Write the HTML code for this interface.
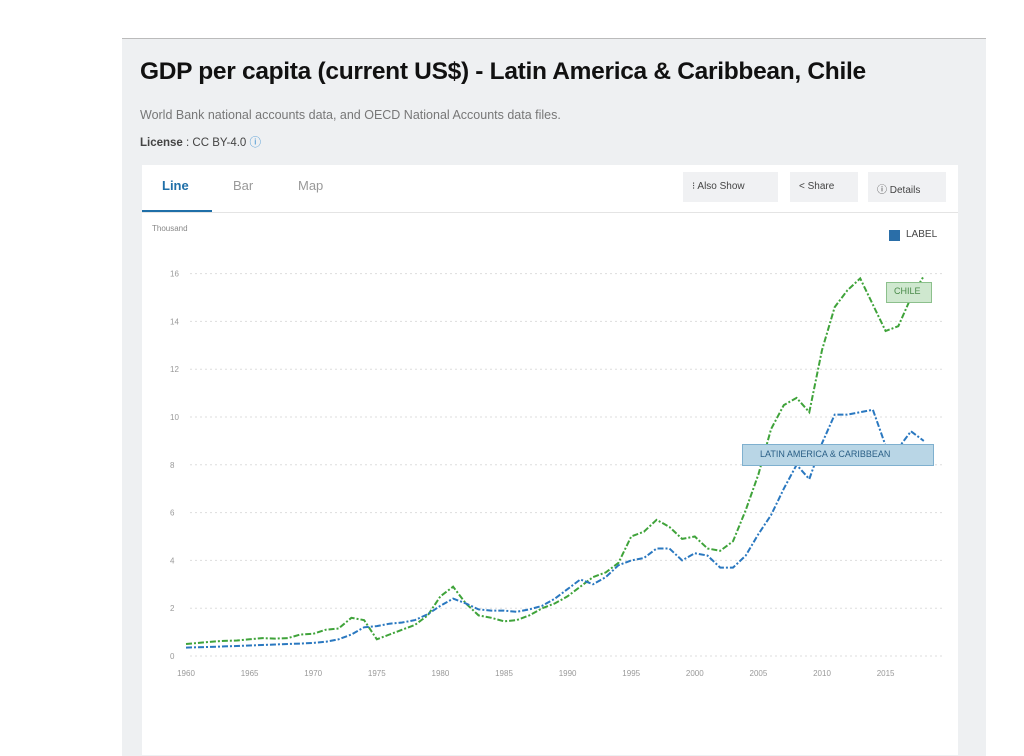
<!DOCTYPE html>
<html><head><meta charset="utf-8"><style>
body{margin:0;width:1024px;height:755px;background:#fff;position:relative;overflow:hidden;font-family:"Liberation Sans",sans-serif}
.card{position:absolute;left:122px;top:38px;width:864px;height:717px;background:#eef0f2;border-top:1px solid #bbb}
.panel{position:absolute;left:142px;top:165px;width:816px;height:590px;background:#fff}
.t{position:absolute;white-space:nowrap}
</style></head><body>
<div class="card"></div>
<div class="t" style="left:140px;top:58px;font-size:24.5px;font-weight:bold;color:#111;letter-spacing:-0.3px">GDP per capita (current US$) - Latin America &amp; Caribbean, Chile</div>
<div class="t" style="left:140px;top:108px;font-size:12.5px;color:#777">World Bank national accounts data, and OECD National Accounts data files.</div>
<div class="t" style="left:140px;top:134px;font-size:11.5px;color:#444"><b>License</b> : CC BY-4.0 <span style="color:#3b8fd0">&#9432;</span></div>
<div class="panel"></div>
<div class="t" style="left:162px;top:178px;font-size:13px;color:#1f6fa8;font-weight:bold">Line</div>
<div style="position:absolute;left:142px;top:210px;width:70px;height:2px;background:#1f6fa8"></div>
<div style="position:absolute;left:142px;top:212px;width:816px;height:1px;background:#e4e4e4"></div>
<div class="t" style="left:233px;top:178px;font-size:13px;color:#999">Bar</div>
<div class="t" style="left:298px;top:178px;font-size:13px;color:#999">Map</div>
<div style="position:absolute;left:683px;top:172px;width:95px;height:30px;background:#f0f1f3"></div>
<div style="position:absolute;left:790px;top:172px;width:68px;height:30px;background:#f0f1f3"></div>
<div style="position:absolute;left:868px;top:172px;width:78px;height:30px;background:#f0f1f3"></div>
<div class="t" style="left:692px;top:181px;font-size:10px;color:#444">⁝ Also Show</div>
<div class="t" style="left:799px;top:181px;font-size:10px;color:#444">&lt; Share</div>
<div class="t" style="left:877px;top:181px;font-size:10px;color:#444">ⓘ Details</div>
<div class="t" style="left:152px;top:224px;font-size:8px;color:#888">Thousand</div>
<div style="position:absolute;left:889px;top:230px;width:11px;height:11px;background:#2a6ea8"></div>
<div class="t" style="left:906px;top:229px;font-size:10px;color:#444">LABEL</div>
<svg id="s" width="1024" height="755" style="position:absolute;left:0;top:0"></svg>
<div style="position:absolute;left:742px;top:444px;width:190px;height:20px;background:#b9d6e6;border:1px solid #7fb0cf"></div>
<div class="t" style="left:760px;top:449px;font-size:9px;color:#2a5f86">LATIN AMERICA &amp; CARIBBEAN</div>
<div style="position:absolute;left:886px;top:282px;width:44px;height:19px;background:#cfe8cf;border:1px solid #8cc08c"></div>
<div class="t" style="left:894px;top:286px;font-size:9px;color:#4a8a4a">CHILE</div>
<script>
const s=document.getElementById('s');let h='';
const X=y=>186+(y-1960)*12.72, Y=v=>656-v*23.9;
for(let g=0;g<=16;g+=2){h+=`<line x1="190" x2="945" y1="${Y(g)}" y2="${Y(g)}" stroke="#ddd" stroke-dasharray="2,3"/>`;
h+=`<text x="170" y="${Y(g)+3}" font-size="8" fill="#999" font-family="Liberation Sans">${g}</text>`;}
for(let y=1960;y<=2015;y+=5)h+=`<text x="${X(y)}" y="676" font-size="8" fill="#999" text-anchor="middle" font-family="Liberation Sans">${y}</text>`;
const ch=[.5,.55,.6,.63,.65,.7,.75,.73,.75,.9,.93,1.1,1.15,1.6,1.5,.7,.9,1.1,1.3,1.7,2.5,2.9,2.2,1.7,1.6,1.45,1.5,1.7,2.0,2.2,2.5,2.9,3.3,3.5,3.9,5.0,5.2,5.7,5.4,4.9,5.0,4.5,4.4,4.8,6.1,7.6,9.5,10.5,10.8,10.2,12.8,14.6,15.3,15.8,14.7,13.6,13.8,15.0,15.9];
const la=[.35,.37,.38,.4,.42,.44,.46,.48,.5,.52,.55,.6,.7,.9,1.2,1.25,1.35,1.4,1.5,1.75,2.1,2.4,2.2,1.95,1.9,1.9,1.85,1.95,2.1,2.4,2.8,3.2,3.0,3.3,3.8,4.0,4.1,4.5,4.5,4.0,4.3,4.2,3.7,3.7,4.2,5.1,5.9,7.0,8.0,7.4,8.9,10.1,10.1,10.2,10.3,8.8,8.7,9.4,9.0];
const p=a=>a.map((v,i)=>X(1960+i).toFixed(1)+','+Y(v).toFixed(1)).join(' ');
h+=`<polyline points="${p(ch)}" fill="none" stroke="#3fa33a" stroke-width="2" stroke-dasharray="6,2,2,2"/>`;
h+=`<polyline points="${p(la)}" fill="none" stroke="#2a78c0" stroke-width="2" stroke-dasharray="6,2,2,2"/>`;
s.innerHTML=h;
</script>
</body></html>
